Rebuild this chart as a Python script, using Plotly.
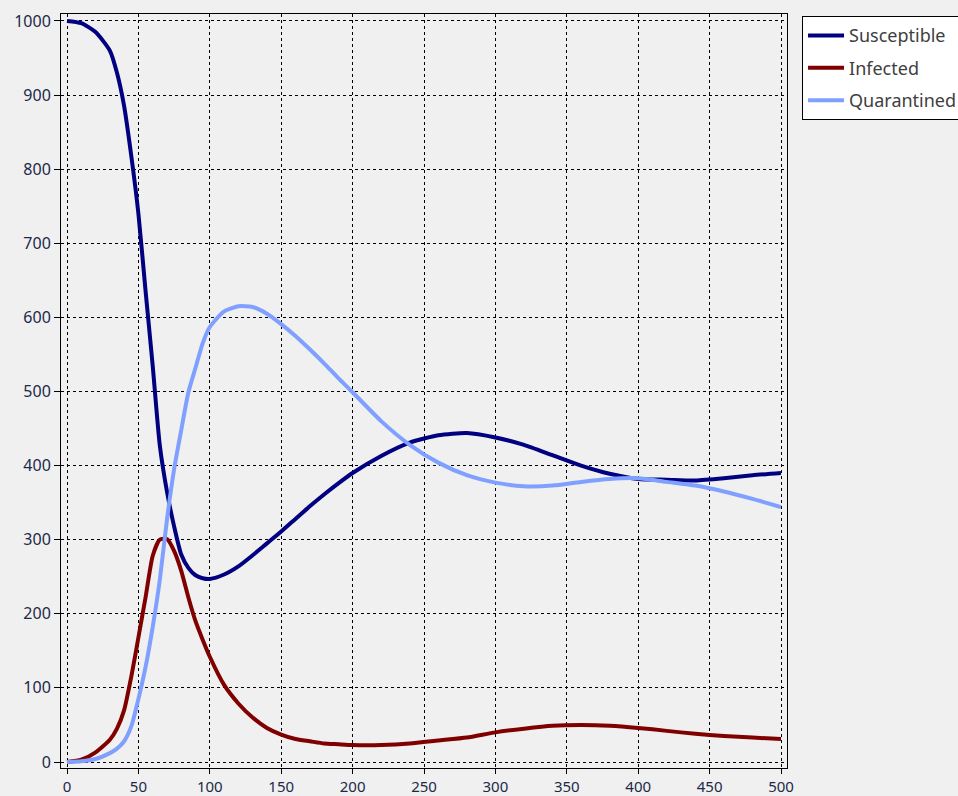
import plotly.graph_objects as go

t = [0, 10, 20, 30, 35, 40, 45, 50, 55, 60, 65, 70, 75, 80, 85, 90, 95, 100,
     110, 120, 130, 140, 150, 160, 170, 180, 190, 200, 220, 240, 260, 280, 300,
     320, 340, 360, 380, 400, 420, 440, 460, 480, 500]

susceptible = [1000, 997, 985, 960, 930, 885, 818, 740, 636, 535, 427, 365, 318, 280,
               262, 252, 248, 247, 253, 264, 279, 295, 311, 328, 345, 361, 376, 390,
               413, 431, 441, 444, 438, 428, 414, 400, 389, 382, 381, 380, 383, 387, 390]

infected = [0, 3, 13, 30, 45, 70, 115, 168, 222, 278, 300, 301, 285, 258, 222, 190,
            165, 142, 104, 79, 60, 46, 37, 31, 28, 25, 24, 23, 23, 25, 29, 33, 40,
            45, 49, 50, 49, 46, 42, 38, 35, 33, 31]

quarantined = [0, 1, 4, 12, 18, 28, 48, 85, 128, 182, 246, 327, 395, 448, 499, 532,
               565, 587, 608, 615, 614, 605, 591, 575, 557, 538, 518, 499, 460, 428,
               404, 387, 377, 372, 373, 378, 382, 383, 378, 373, 365, 355, 344]

x_ticks = [0, 50, 100, 150, 200, 250, 300, 350, 400, 450, 500]
y_ticks = [0, 100, 200, 300, 400, 500, 600, 700, 800, 900, 1000]

series = [
    ("Susceptible", susceptible, "#000080"),
    ("Infected", infected, "#800000"),
    ("Quarantined", quarantined, "#80a0ff"),
]

fig = go.Figure()
for name, vals, col in series:
    fig.add_trace(go.Scatter(x=t, y=vals, mode="lines", name=name, legendgroup=name,
                             line=dict(color=col, width=4, shape="spline", smoothing=0.6)))

font_family = "Segoe UI, Noto Sans, Open Sans, sans-serif"
axis_common = dict(
    showline=True, linecolor="black", linewidth=1, mirror=True,
    ticks="outside", tickcolor="black", tickwidth=1,
    showgrid=True, gridcolor="black", gridwidth=1, griddash="3px,3px",
    zeroline=False, automargin=False,
)

fig.update_xaxes(range=[-4.2, 504.2], tickvals=x_ticks, ticklen=5,
                 tickfont=dict(family=font_family, size=15, color="#1c2a48"),
                 **axis_common)
fig.update_yaxes(range=[-8.1, 1009.4], tickvals=y_ticks, ticklen=6,
                 tickfont=dict(family=font_family, size=16, color="#1c2a48"),
                 **axis_common)

fig.update_layout(
    width=958, height=796,
    margin=dict(l=61, r=171, t=14, b=28, autoexpand=False),
    paper_bgcolor="#f0f0f0", plot_bgcolor="#f0f0f0",
    showlegend=True,
    legend=dict(x=1.0207, y=0.997, xanchor="left", yanchor="top",
                bgcolor="white", bordercolor="black", borderwidth=1,
                font=dict(family=font_family, size=18, color="#404040"),
                tracegroupgap=6, itemwidth=36),
)

fig.write_html("out.html")
